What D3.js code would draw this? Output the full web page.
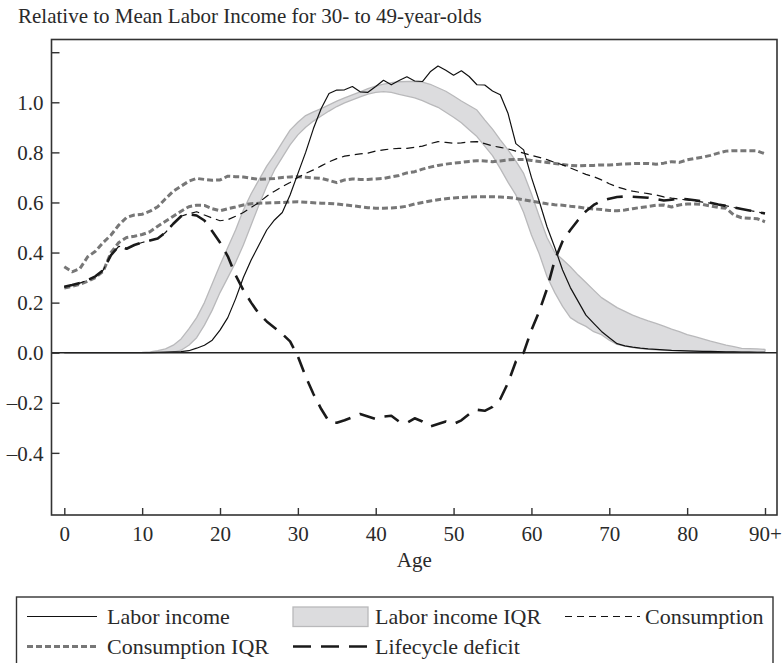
<!DOCTYPE html>
<html>
<head>
<meta charset="utf-8">
<script src="https://cdn.jsdelivr.net/npm/d3@7"></script>
<style>
  html, body { margin: 0; padding: 0; background: #fff; }
  svg { display: block; }
  text { font-family: "Liberation Serif", "Times New Roman", serif; fill: #2a2a2a; }
</style>
</head>
<body>
<svg id="chart" width="782" height="663"></svg>
<script>
// Age 0 .. 90 (90 = "90+")
const ages = d3.range(0, 91);

const laborIncome = [
  0,0,0,0,0,0,0,0,0,0,0,0,
  0.001,0.002,0.003,0.004,0.008,0.018,0.03,0.05,0.09,
  0.14,0.215,0.30,0.37,0.43,0.49,0.53,0.56,0.63,0.715,
  0.80,0.895,0.975,1.035,1.049,1.05,1.063,1.042,1.04,1.063,
  1.088,1.07,1.087,1.102,1.085,1.083,1.122,1.145,1.128,1.108,
  1.126,1.103,1.07,1.069,1.045,1.03,0.955,0.835,0.81,0.70,
  0.605,0.503,0.42,0.33,0.26,0.205,0.15,0.117,0.085,0.06,
  0.036,0.027,0.022,0.018,0.015,0.013,0.011,0.009,0.008,0.007,
  0.006,0.005,0.005,0.004,0.003,0.003,0.002,0.002,0.001,0.001
];

const laborIqrHigh = [
  0,0,0,0,0,0,0,0,0,0,
  0.001,0.003,0.008,0.015,0.03,0.055,0.095,0.14,0.20,0.275,0.35,
  0.42,0.49,0.57,0.635,0.69,0.745,0.79,0.84,0.889,0.92,
  0.947,0.962,0.975,0.99,1.005,1.018,1.03,1.042,1.055,1.065,
  1.073,1.078,1.082,1.083,1.083,1.081,1.072,1.058,1.044,1.025,
  1.005,0.987,0.969,0.93,0.893,0.85,0.81,0.765,0.716,0.635,
  0.545,0.46,0.40,0.372,0.343,0.31,0.28,0.25,0.22,0.20,
  0.18,0.165,0.15,0.138,0.127,0.117,0.106,0.094,0.084,0.072,
  0.064,0.055,0.046,0.038,0.03,0.024,0.017,0.016,0.015,0.013
];

const laborIqrLow = [
  0,0,0,0,0,0,0,0,0,0,0,0,0,0,
  0.002,0.01,0.03,0.06,0.11,0.17,0.24,
  0.30,0.36,0.43,0.51,0.59,0.665,0.73,0.78,0.83,0.87,
  0.90,0.925,0.945,0.965,0.983,0.998,1.01,1.022,1.033,1.04,
  1.043,1.04,1.032,1.025,1.018,1.007,0.993,0.98,0.96,0.94,
  0.918,0.89,0.863,0.825,0.787,0.735,0.68,0.63,0.56,0.47,
  0.395,0.304,0.24,0.185,0.14,0.12,0.105,0.084,0.072,0.05,
  0.033,0.026,0.02,0.016,0.013,0.011,0.009,0.008,0.007,0.006,
  0.005,0.005,0.004,0.004,0.004,0.004,0.004,0.004,0.004,0.004
];

const consumption = [
  0.263,0.27,0.278,0.29,0.305,0.33,0.39,0.425,0.415,0.43,0.44,
  0.448,0.456,0.48,0.515,0.545,0.555,0.563,0.55,0.538,0.527,
  0.531,0.545,0.56,0.58,0.60,0.625,0.645,0.663,0.68,0.70,
  0.716,0.73,0.746,0.762,0.775,0.785,0.79,0.794,0.797,0.805,
  0.81,0.814,0.816,0.816,0.82,0.825,0.835,0.843,0.84,0.836,
  0.838,0.842,0.843,0.835,0.826,0.82,0.814,0.805,0.797,0.788,
  0.78,0.771,0.76,0.75,0.738,0.725,0.712,0.703,0.69,0.675,
  0.662,0.653,0.645,0.64,0.635,0.63,0.622,0.617,0.613,0.61,
  0.606,0.601,0.597,0.592,0.587,0.58,0.575,0.568,0.562,0.557
];

const consumptionIqrHigh = [
  0.343,0.323,0.336,0.383,0.405,0.44,0.47,0.51,0.54,0.55,0.553,
  0.565,0.583,0.615,0.645,0.665,0.685,0.696,0.692,0.689,0.69,
  0.705,0.703,0.702,0.697,0.692,0.694,0.696,0.70,0.702,0.703,
  0.701,0.698,0.696,0.688,0.679,0.69,0.694,0.692,0.692,0.694,
  0.696,0.702,0.708,0.718,0.723,0.733,0.741,0.748,0.753,0.757,
  0.76,0.764,0.767,0.766,0.763,0.766,0.77,0.772,0.772,0.768,
  0.764,0.76,0.756,0.752,0.748,0.746,0.748,0.748,0.75,0.75,
  0.752,0.754,0.755,0.756,0.756,0.753,0.757,0.763,0.76,0.77,
  0.776,0.781,0.788,0.797,0.805,0.807,0.807,0.807,0.806,0.794
];

const consumptionIqrLow = [
  0.258,0.265,0.273,0.285,0.30,0.325,0.40,0.44,0.46,0.465,0.472,
  0.483,0.505,0.525,0.545,0.565,0.583,0.589,0.588,0.575,0.567,
  0.575,0.582,0.59,0.595,0.597,0.598,0.599,0.6,0.602,0.603,
  0.601,0.599,0.597,0.596,0.594,0.59,0.587,0.583,0.579,0.577,
  0.577,0.578,0.58,0.585,0.594,0.6,0.606,0.611,0.615,0.618,
  0.62,0.622,0.623,0.623,0.623,0.622,0.62,0.616,0.611,0.605,
  0.6,0.595,0.591,0.589,0.585,0.582,0.577,0.574,0.572,0.568,
  0.567,0.57,0.575,0.58,0.584,0.589,0.59,0.582,0.59,0.594,
  0.594,0.592,0.586,0.58,0.577,0.55,0.539,0.537,0.535,0.523
];

const lifecycleDeficit = [
  0.263,0.27,0.278,0.29,0.305,0.33,0.39,0.425,0.415,0.43,0.44,
  0.448,0.456,0.48,0.515,0.545,0.553,
  0.548,0.528,0.485,0.44,
  0.385,0.31,0.25,0.20,0.155,0.125,0.10,0.075,0.045,-0.015,
  -0.095,-0.165,-0.225,-0.275,-0.28,-0.27,-0.258,-0.245,-0.255,-0.265,
  -0.255,-0.252,-0.275,-0.28,-0.262,-0.275,-0.295,-0.285,-0.275,-0.285,
  -0.27,-0.245,-0.228,-0.232,-0.216,-0.185,-0.12,-0.035,0.0,0.09,
  0.165,0.255,0.37,0.445,0.49,0.53,0.565,0.59,0.607,0.615,
  0.622,0.624,0.623,0.621,0.619,0.614,0.608,0.611,0.616,0.613,
  0.609,0.604,0.599,0.592,0.586,0.58,0.574,0.568,0.562,0.556
];

const xTicks = [0, 10, 20, 30, 40, 50, 60, 70, 80, 90];
const xTickLabels = ["0", "10", "20", "30", "40", "50", "60", "70", "80", "90+"];
const yTicks = [-0.4, -0.2, 0, 0.2, 0.4, 0.6, 0.8, 1.0, 1.2];
const yTickLabels = ["\u20130.4", "\u20130.2", "0.0", "0.2", "0.4", "0.6", "0.8", "1.0", ""];

const titleText = "Relative to Mean Labor Income for 30- to 49-year-olds";
const xAxisTitle = "Age";

const legendLabels = ["Labor income", "Labor income IQR", "Consumption", "Consumption IQR", "Lifecycle deficit"];

// ---- layout ----
const svg = d3.select("#chart");
const frame = { left: 51.5, right: 777, top: 39.5, bottom: 515 };

const x = d3.scaleLinear().domain([0, 90]).range([64.3, 765]);
const y = d3.scaleLinear().domain([0, 1]).range([352.7, 102.3]);

const styles = {
  labor:   { stroke: "#111", width: 1.2, dash: null },
  band:    { fill: "#dcdcde", stroke: "#b9b9bb", width: 1.3 },
  cons:    { stroke: "#111", width: 1.2, dash: "8,5" },
  consIqr: { stroke: "#777", width: 3, dash: "6,3" },
  deficit: { stroke: "#1a1a1a", width: 2.6, dash: "16,10" }
};

// title
svg.append("text")
  .attr("x", 18).attr("y", 23)
  .attr("font-size", 21)
  .text(titleText);

const plot = svg.append("g");

// clip to the frame
svg.append("defs").append("clipPath").attr("id", "plotClip")
  .append("rect")
  .attr("x", frame.left).attr("y", frame.top)
  .attr("width", frame.right - frame.left).attr("height", frame.bottom - frame.top);

const marks = plot.append("g").attr("clip-path", "url(#plotClip)");

const rows = ages.map((a, i) => ({
  age: a,
  li: laborIncome[i], liLo: laborIqrLow[i], liHi: laborIqrHigh[i],
  c: consumption[i], cLo: consumptionIqrLow[i], cHi: consumptionIqrHigh[i],
  d: lifecycleDeficit[i]
}));

// labor income IQR band
marks.append("path")
  .datum(rows)
  .attr("d", d3.area().x(d => x(d.age)).y0(d => y(d.liLo)).y1(d => y(d.liHi)))
  .attr("fill", styles.band.fill)
  .attr("stroke", styles.band.stroke)
  .attr("stroke-width", styles.band.width)
  .attr("stroke-linejoin", "round");

function drawLine(key, st) {
  const p = marks.append("path")
    .datum(rows)
    .attr("d", d3.line().x(d => x(d.age)).y(d => y(d[key])))
    .attr("fill", "none")
    .attr("stroke", st.stroke)
    .attr("stroke-width", st.width)
    .attr("stroke-linejoin", "round");
  if (st.dash) p.attr("stroke-dasharray", st.dash);
  return p;
}

drawLine("cHi", styles.consIqr);
drawLine("cLo", styles.consIqr);
drawLine("c", styles.cons);
drawLine("li", styles.labor);

// zero reference line
marks.append("line")
  .attr("x1", frame.left).attr("x2", frame.right)
  .attr("y1", y(0)).attr("y2", y(0))
  .attr("stroke", "#222").attr("stroke-width", 1.5);

drawLine("d", styles.deficit);

// frame
plot.append("rect")
  .attr("x", frame.left).attr("y", frame.top)
  .attr("width", frame.right - frame.left).attr("height", frame.bottom - frame.top)
  .attr("fill", "none").attr("stroke", "#333").attr("stroke-width", 1.6);

// y axis: inward ticks
const yAxis = d3.axisRight(y)
  .tickValues(yTicks)
  .tickSize(8)
  .tickFormat((d, i) => yTickLabels[i]);
const gy = plot.append("g").attr("transform", `translate(${frame.left},0)`).call(yAxis);
gy.select(".domain").remove();
gy.selectAll(".tick line").attr("stroke", "#333").attr("stroke-width", 1.4);
gy.selectAll(".tick text")
  .attr("x", -8).attr("text-anchor", "end")
  .attr("dy", "0.34em")
  .attr("font-size", 21)
  .attr("font-family", "Liberation Serif, serif")
  .attr("fill", "#2a2a2a");

// x axis: inward ticks
const xAxis = d3.axisTop(x)
  .tickValues(xTicks)
  .tickSize(7)
  .tickFormat((d, i) => xTickLabels[i]);
const gx = plot.append("g").attr("transform", `translate(0,${frame.bottom})`).call(xAxis);
gx.select(".domain").remove();
gx.selectAll(".tick line").attr("stroke", "#333").attr("stroke-width", 1.4);
gx.selectAll(".tick text")
  .attr("y", 26).attr("dy", 0)
  .attr("font-size", 21)
  .attr("font-family", "Liberation Serif, serif")
  .attr("fill", "#2a2a2a");

svg.append("text")
  .attr("x", (frame.left + frame.right) / 2).attr("y", 567)
  .attr("text-anchor", "middle")
  .attr("font-size", 21)
  .text(xAxisTitle);

// ---- legend ----
const legend = svg.append("g");
legend.append("rect")
  .attr("x", 16.5).attr("y", 597)
  .attr("width", 756.5).attr("height", 80)
  .attr("fill", "none").attr("stroke", "#333").attr("stroke-width", 1.4);

const legendItems = [
  { label: legendLabels[0], kind: "line", st: styles.labor,   x0: 27,  x1: 97,  tx: 107, row: 0 },
  { label: legendLabels[1], kind: "band", st: styles.band,    x0: 293, x1: 368, tx: 375, row: 0 },
  { label: legendLabels[2], kind: "line", st: { stroke: "#111", width: 1.2, dash: "7,5" }, x0: 565, x1: 640, tx: 645, row: 0 },
  { label: legendLabels[3], kind: "line", st: styles.consIqr, x0: 27,  x1: 97,  tx: 107, row: 1 },
  { label: legendLabels[4], kind: "line", st: { stroke: "#1a1a1a", width: 2.6, dash: "18,10" }, x0: 293, x1: 368, tx: 375, row: 1 }
];
const rowY = [616.5, 646.5];

legendItems.forEach(it => {
  const cy = rowY[it.row];
  if (it.kind === "band") {
    legend.append("rect")
      .attr("x", it.x0).attr("y", cy - 9.5)
      .attr("width", it.x1 - it.x0).attr("height", 19.5)
      .attr("fill", it.st.fill).attr("stroke", it.st.stroke).attr("stroke-width", 1.3);
  } else {
    const l = legend.append("line")
      .attr("x1", it.x0).attr("x2", it.x1).attr("y1", cy).attr("y2", cy)
      .attr("stroke", it.st.stroke).attr("stroke-width", it.st.width);
    if (it.st.dash) l.attr("stroke-dasharray", it.st.dash);
  }
  legend.append("text")
    .attr("x", it.tx).attr("y", cy + 7.5)
    .attr("font-size", 22)
    .text(it.label);
});
</script>
</body>
</html>
